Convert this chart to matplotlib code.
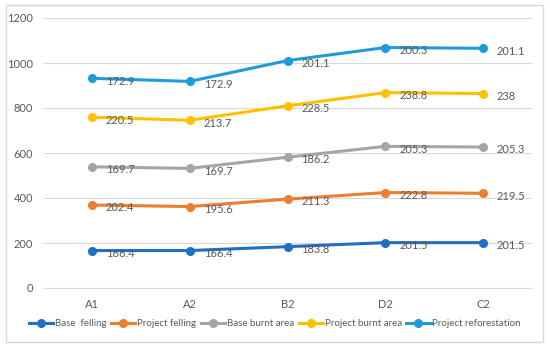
import matplotlib.pyplot as plt
import numpy as np

plt.rcParams['font.family'] = ['Lato', 'DejaVu Sans']

sites = ["A1", "A2", "B2", "D2", "C2"]
base_felling = [166.4, 166.4, 183.8, 201.5, 201.5]
project_felling = [202.4, 195.6, 211.3, 222.8, 219.5]
base_burnt = [169.7, 169.7, 186.2, 205.3, 205.3]
project_burnt = [220.5, 213.7, 228.5, 238.8, 238]
project_reforest = [172.9, 172.9, 201.1, 200.3, 201.1]

names = ["Base  felling", "Project felling", "Base burnt area",
         "Project burnt area", "Project reforestation"]
series = [base_felling, project_felling, base_burnt, project_burnt, project_reforest]
colors = ["#1F6FC6", "#ED7D31", "#A5A5A5", "#FFC000", "#1E9BDC"]

fig = plt.figure(figsize=(5.5, 3.47), dpi=100)
# outer frame
fig.add_artist(plt.Rectangle((6 / 550, 5 / 347), 537 / 550, 337 / 347,
                             transform=fig.transFigure, fill=False,
                             edgecolor="#D9D9D9", linewidth=1))
ax = fig.add_axes([43 / 550, 1 - 288 / 347, 489 / 550, 270 / 347])

x = np.arange(len(sites))
total = np.zeros(len(sites))
for vals, name, c in zip(series, names, colors):
    total = total + np.array(vals)
    ax.plot(x, total, color=c, lw=2.2, marker="o", ms=5.5, label=name, zorder=3)
    for xi, yi, v in zip(x, total, vals):
        ax.annotate(f"{v:g}", (xi, yi), xytext=(10, -2), textcoords="offset points",
                    fontsize=8, color="#595959", va="center", ha="left", zorder=4)

ax.set_xlim(-0.5, 4.5)
ax.set_ylim(0, 1200)
ax.set_yticks(range(0, 1201, 200))
ax.set_xticks(x)
ax.set_xticklabels(sites)
ax.yaxis.grid(True, color="#D9D9D9", lw=0.8)
ax.set_axisbelow(True)
for s in ["top", "right", "left"]:
    ax.spines[s].set_visible(False)
ax.spines["bottom"].set_color("#D9D9D9")
ax.tick_params(axis="both", length=0, labelsize=8, labelcolor="#595959", pad=8)
ax.tick_params(axis="y", pad=7)

fig.legend(loc="center", bbox_to_anchor=(0.5, 1 - 324 / 347), ncol=5, frameon=False,
           fontsize=7, labelcolor="#595959", handlelength=2.5, handletextpad=0.2,
           columnspacing=0.45)

fig.savefig("out.png", dpi=100)
